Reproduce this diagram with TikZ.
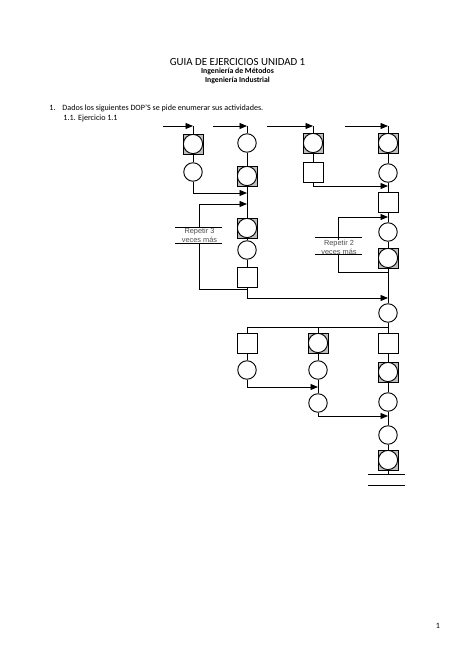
\documentclass[tikz,border=0pt]{standalone}
\usepackage{fontspec}
\setmainfont{Carlito}
\newfontfamily\arialf{Liberation Sans}
\usetikzlibrary{arrows.meta}
\begin{document}
\begin{tikzpicture}[x=1bp,y=-1bp,
  every path/.style={line width=0.95bp},
  op/.style={circle, draw, minimum size=18.5bp, inner sep=0pt, fill=white},
  sq/.style={rectangle, draw, minimum size=20bp, inner sep=0pt, fill=white},
  comb/.style={rectangle, draw, minimum size=20bp, inner sep=0pt, fill=gray!50,
    path picture={\fill[white] (path picture bounding box.center) circle (9.6bp);
      \draw[line width=0.95bp] (path picture bounding box.center) circle (9.6bp);}},
  arr/.style={-{Triangle[length=7.5bp,width=6bp]}},
  rep/.style={font=\arialf\fontsize{7.4}{8.4}\selectfont, text=gray!60!black, align=center, inner sep=0.3bp, fill=white},
  txt/.style={inner sep=0pt, anchor=west}]
\useasboundingbox[fill=white] (0,0) rectangle (474,669);

% header
\node (h1t) at (237.5,62) {\fontsize{10.9}{12}\selectfont GUIA DE EJERCICIOS UNIDAD 1};
\node (h2t) at (237.5,71.5) {\fontsize{7.8}{8}\selectfont\bfseries Ingeniería de Métodos};
\node (h3t) at (237.5,80) {\fontsize{7.8}{8}\selectfont\bfseries Ingeniería Industrial};
\node[txt] (q1n) at (49,108) {\fontsize{8.1}{9}\selectfont 1.};
\node[txt] (q1) at (62,108) {\fontsize{8.1}{9}\selectfont Dados los siguientes DOP'S se pide enumerar sus actividades.};
\node[txt] (q11) at (63,118) {\fontsize{8.1}{9}\selectfont 1.1. Ejercicio 1.1};
\node (pg) at (438,626) {\fontsize{8.1}{9}\selectfont 1};

% column 1
\node[comb] (a1) at (193,144) {};
\node[op] (a2) at (193,172) {};
% column 2
\node[op] (b1) at (247,143) {};
\node[comb] (b2) at (247,176) {};
\node[comb] (b3) at (247,228) {};
\node[op] (b4) at (247,250) {};
\node[sq] (b5) at (247,277) {};
% column 3
\node[comb] (d1) at (313,143) {};
\node[sq] (d2) at (313,172) {};
% column 4
\node[comb] (e1) at (388,143) {};
\node[op] (e2) at (388,173) {};
\node[sq] (e3) at (388,202) {};
\node[op] (e4) at (388,232) {};
\node[comb] (e5) at (388,258) {};
\node[op] (e6) at (388,313) {};
% branches
\node[sq] (f1) at (247,343) {};
\node[op] (f2) at (247,370) {};
\node[comb] (g1) at (318,343) {};
\node[op] (g2) at (318,370) {};
\node[op] (g3) at (318,403) {};
\node[sq] (k1) at (388,343) {};
\node[comb] (k2) at (388,372) {};
\node[op] (k3) at (388,402) {};
\node[op] (k4) at (388,435) {};
\node[comb] (k5) at (388,460) {};

% incoming arrows
\coordinate (s1) at (163,126);
\coordinate (s2) at (213,126);
\coordinate (s3) at (267,126);
\coordinate (s4) at (345,126);
\draw[arr] (s1) -- (s1 -| a1);
\draw (s1 -| a1) -- (a1);
\draw[arr] (s2) -- (s2 -| b1);
\draw (s2 -| b1) -- (b1);
\draw[arr] (s3) -- (s3 -| d1);
\draw (s3 -| d1) -- (d1);
\draw[arr] (s4) -- (s4 -| e1);
\draw (s4 -| e1) -- (e1);

% column lines
\draw (a1) -- (a2);
\draw (b1) -- (b2) -- (b3) -- (b4) -- (b5);
\draw (d1) -- (d2);
\draw (e1) -- (e2) -- (e3) -- (e4) -- (e5) -- (e6) -- (k1) -- (k2) -- (k3) -- (k4) -- (k5);
\draw (f1) -- (f2);
\draw (g1) -- (g2) -- (g3);

% joins
\coordinate (j1) at (247,193);
\draw[arr] (a2) |- (j1);
\coordinate (j3) at (388,186);
\draw[arr] (d2) |- (j3);
\coordinate (j4) at (388,298);
\draw[arr] (b5) |- (j4);
\coordinate (j5) at (318,387);
\draw[arr] (f2) |- (j5);
\coordinate (j6) at (388,416);
\draw[arr] (g3) |- (j6);

% branch bar
\coordinate (br) at (388,327);
\draw (br) -| (f1);
\draw (g1) -- (g1 |- br);

% loop 1
\coordinate (L1t) at (199,204);
\coordinate (L1b) at (199,289);
\draw[arr] (L1b -| b5) -- (L1b) -- (L1t) -- (L1t -| b2);
\node[rep] (r1) at (199.5,235.5) {Repetir 3\\veces más};
\draw (175,227.7) -- (222,227.7);
\draw (175,243) -- (222,243);

% loop 2
\coordinate (L2t) at (338,217);
\coordinate (L2b) at (338,272);
\draw[arr] (L2b -| e5) -- (L2b) -- (L2t) -- (L2t -| e4);
\node[rep] (r2) at (339,247.5) {Repetir 2\\veces más};
\draw (315,237) -- (362,237);
\draw (315,254) -- (362,254);

% end
\coordinate (end) at (388,474);
\draw (k5) -- (end);
\draw (368,474) -- (405,474);
\draw (368,485) -- (405,485);
\end{tikzpicture}
\end{document}
